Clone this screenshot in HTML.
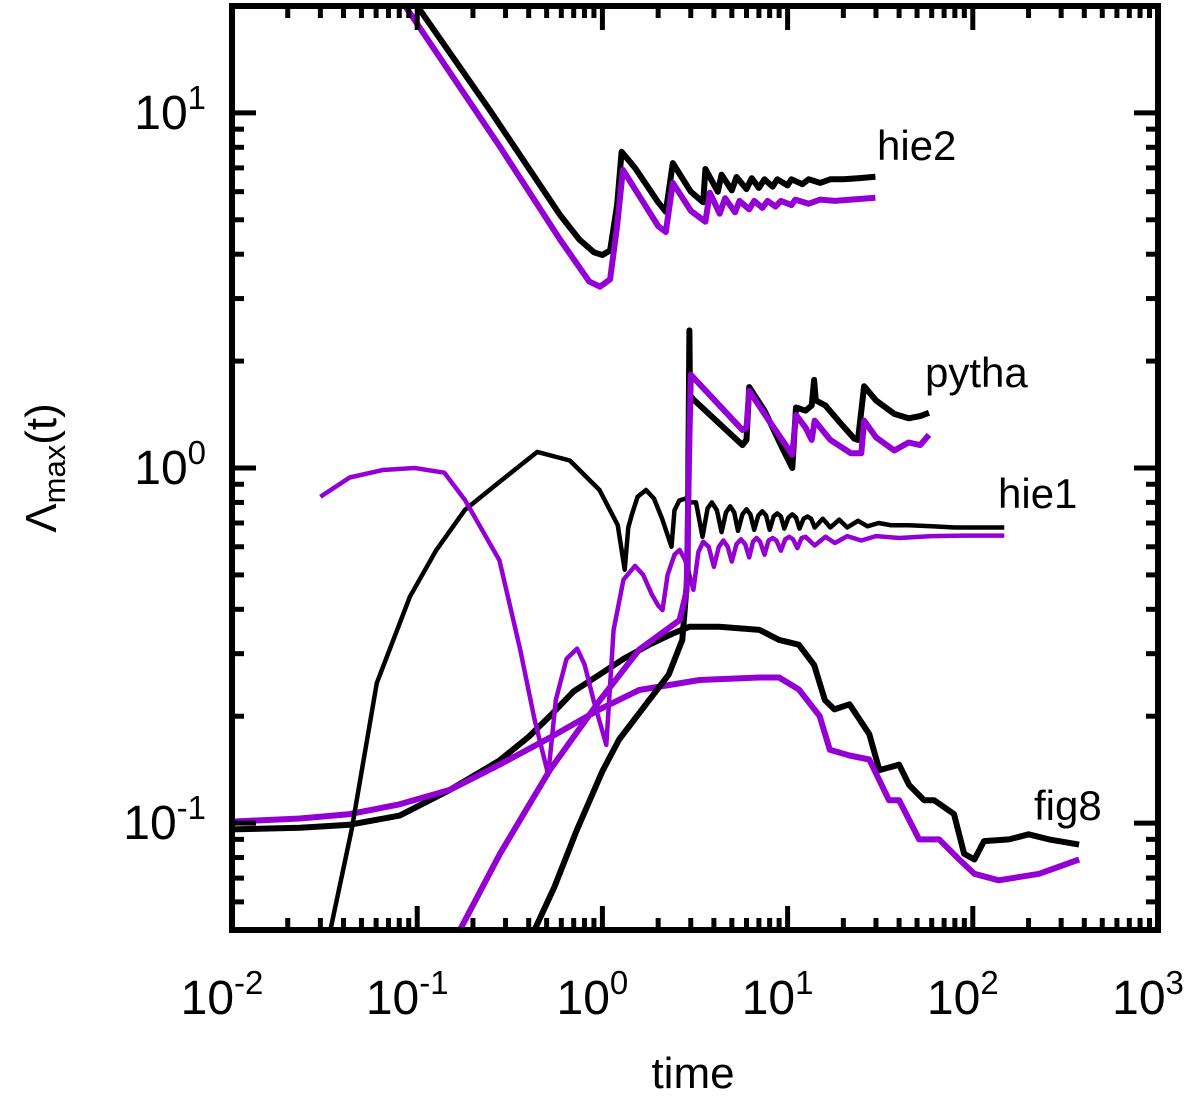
<!DOCTYPE html>
<html><head><meta charset="utf-8"><style>
html,body{margin:0;padding:0;background:#fff;}
svg{display:block;font-family:"Liberation Sans","DejaVu Sans",sans-serif;}
</style></head><body>
<svg id="chart" width="1200" height="1096" viewBox="0 0 1200 1096" xmlns="http://www.w3.org/2000/svg" style="position:absolute;left:0;top:0">
<g id="plot"></g>
<g id="axes"></g>
<g id="labels"></g>
<text x="693" y="1088" text-anchor="middle" font-size="44">time</text>
<text transform="translate(56,468) rotate(-90)" text-anchor="middle" font-size="44">Λ<tspan font-size="31" dy="9">max</tspan><tspan dy="-9">(t)</tspan></text>
<text x="877" y="160" font-size="42">hie2</text>
<text x="925" y="387" font-size="42">pytha</text>
<text x="998" y="508" font-size="42">hie1</text>
<text x="1034" y="820" font-size="42">fig8</text>
</svg>
<script>
const xDecades = [-2,-1,0,1,2,3];
const yDecades = [-1,0,1];
const xTickLabels = ["-2","-1","0","1","2","3"];
const yTickLabels = ["-1","0","1"];

// hie2
const hie2BlackT = [0.10,0.246,0.59,0.75,0.9,1.0,1.1,1.2,1.27,1.5,2.0,2.2,2.4,3.0,3.5,3.6,4.2,4.4,5,5.3,6,6.4,7,7.5,8.3,8.8,10,10.5,12,13,15,17,20,24,29.8];
const hie2BlackY = [20,10.2,5.16,4.4,4.05,3.98,4.1,5.5,7.77,7.0,5.6,5.27,7.22,6.0,5.6,6.95,6.0,6.7,6.05,6.6,6.1,6.55,6.15,6.5,6.2,6.5,6.25,6.5,6.3,6.5,6.35,6.5,6.5,6.55,6.61];
const hie2PurpleT = [0.086,0.278,0.59,0.85,0.97,1.1,1.2,1.29,1.5,2.0,2.2,2.4,3.0,3.6,3.8,4.3,4.6,5.2,5.5,6.2,6.6,7.3,7.8,8.6,9.2,10.5,11,13,15,18,22,29.8];
const hie2PurpleY = [20,8.07,4.4,3.35,3.24,3.4,4.8,6.91,6.1,4.8,4.62,6.35,5.3,4.94,5.96,5.2,5.75,5.25,5.65,5.35,5.65,5.4,5.65,5.45,5.65,5.5,5.7,5.55,5.7,5.65,5.7,5.77];

// hie1
const hie1BlackT = [0.034,0.0443,0.0605,0.0913,0.127,0.181,0.278,0.445,0.667,0.965,1.21,1.32,1.38,1.44,1.55,1.72,1.9,2.1,2.36,2.45,2.6,2.8,2.95,3.2,3.47,3.7,3.9,4.15,4.4,4.65,4.9,5.15,5.4,5.7,6.0,6.3,6.6,6.95,7.3,7.65,8,8.4,8.8,9.2,9.6,10.1,10.6,11.1,11.6,12.2,12.8,13.4,14,15.5,17,19,21,24,27,31,36,45,60,80,100,120,148];
const hie1BlackY = [0.05,0.096,0.248,0.434,0.588,0.762,0.913,1.11,1.05,0.867,0.691,0.517,0.68,0.737,0.83,0.867,0.82,0.72,0.6,0.76,0.81,0.82,0.8,0.8,0.64,0.77,0.8,0.76,0.66,0.75,0.78,0.75,0.665,0.74,0.765,0.74,0.67,0.735,0.755,0.735,0.67,0.73,0.745,0.73,0.675,0.725,0.74,0.725,0.675,0.72,0.73,0.72,0.68,0.72,0.68,0.715,0.68,0.71,0.685,0.70,0.69,0.69,0.685,0.68,0.68,0.68,0.68];
const hie1PurpleT = [0.030,0.0432,0.065,0.097,0.14,0.181,0.278,0.36,0.43,0.51,0.56,0.64,0.73,0.8,0.9,1.05,1.15,1.3,1.5,1.66,1.85,2.0,2.11,2.25,2.45,2.61,2.8,2.95,3.1,3.3,3.5,3.75,4.0,4.25,4.5,4.75,5.0,5.3,5.6,5.9,6.2,6.5,6.8,7.1,7.5,7.9,8.3,8.7,9.2,9.7,10.2,10.7,11.3,11.9,12.5,14,16,18,21,25,30,40,60,90,148];
const hie1PurpleY = [0.83,0.94,0.987,1.0,0.97,0.813,0.55,0.308,0.196,0.137,0.222,0.29,0.31,0.28,0.22,0.166,0.35,0.485,0.53,0.5,0.44,0.41,0.398,0.5,0.57,0.588,0.55,0.5,0.454,0.58,0.62,0.6,0.527,0.6,0.625,0.6,0.545,0.61,0.63,0.61,0.56,0.62,0.635,0.62,0.57,0.625,0.635,0.625,0.585,0.63,0.64,0.63,0.595,0.635,0.64,0.605,0.64,0.615,0.643,0.625,0.643,0.635,0.643,0.645,0.645];

// pytha
const pythaBlackT = [0.43,0.55,0.73,1.0,1.23,1.79,2.28,2.7,2.88,2.95,2.97,3.1,5.7,6.0,6.2,7.5,9.5,10.6,11.1,12.5,13.5,13.9,14.2,16,19,22.9,24,25.9,30,37.7,45,52,58];
const pythaBlackY = [0.05,0.066,0.096,0.14,0.172,0.222,0.262,0.328,0.5,2.44,1.6,1.56,1.16,1.2,1.69,1.45,1.12,1.0,1.48,1.45,1.5,1.77,1.55,1.5,1.35,1.21,1.2,1.7,1.55,1.42,1.38,1.4,1.43];
const pythaPurpleT = [0.17,0.28,0.52,0.97,1.58,2.61,2.85,2.95,3.0,5.7,6.0,6.2,8.0,10.6,11.1,12.5,13.5,14.0,17,22,25,25.9,30,37.7,45,52,58];
const pythaPurpleY = [0.05,0.082,0.141,0.222,0.308,0.373,0.45,1.2,1.83,1.28,1.3,1.65,1.35,1.09,1.41,1.3,1.2,1.36,1.2,1.1,1.1,1.36,1.22,1.12,1.18,1.16,1.24];

// fig8
const fig8BlackT = [0.01,0.0233,0.0432,0.0804,0.150,0.278,0.40,0.52,0.7,0.965,1.3,1.79,2.4,2.95,4.27,7.05,9.0,11.5,13.9,15.9,17.9,21.6,27.6,31.3,40.0,45.3,54.6,61.8,79.2,89.8,102,115,157,200,258,375];
const fig8BlackY = [0.096,0.097,0.099,0.105,0.124,0.15,0.175,0.2,0.235,0.262,0.29,0.318,0.342,0.357,0.357,0.350,0.328,0.318,0.279,0.222,0.209,0.216,0.178,0.141,0.146,0.128,0.116,0.116,0.106,0.082,0.079,0.089,0.090,0.093,0.090,0.087];
const fig8PurpleT = [0.01,0.0233,0.0432,0.0804,0.150,0.278,0.52,0.965,1.58,3.35,7.05,9.0,11.5,14.9,16.9,21.6,27.6,35.3,40.0,51.3,65.8,84.4,102,138,228,375];
const fig8PurpleY = [0.101,0.103,0.106,0.113,0.124,0.146,0.174,0.209,0.237,0.253,0.257,0.257,0.238,0.2,0.161,0.155,0.151,0.116,0.116,0.090,0.090,0.079,0.072,0.069,0.072,0.079];

const L=232,R=1158,T=6,B=930;
const xMin=-2,xMax=3,yMin=Math.log10(0.05),yMax=Math.log10(20);
function xs(t){return L+(Math.log10(t)-xMin)/(xMax-xMin)*(R-L);}
function ys(v){return B-(Math.log10(v)-yMin)/(yMax-yMin)*(B-T);}
const NS="http://www.w3.org/2000/svg";
const plot=document.getElementById('plot'),axes=document.getElementById('axes'),labels=document.getElementById('labels');

const defs=document.createElementNS(NS,'clipPath');
defs.setAttribute('id','clip');
const cr=document.createElementNS(NS,'rect');
cr.setAttribute('x',L);cr.setAttribute('y',T);cr.setAttribute('width',R-L);cr.setAttribute('height',B-T);
defs.appendChild(cr);
document.getElementById('chart').insertBefore(defs,plot);
plot.setAttribute('clip-path','url(#clip)');

function line(ts,vs,color,w,name){
  const p=document.createElementNS(NS,'polyline');
  p.setAttribute('points',ts.map((t,i)=>xs(t).toFixed(1)+','+ys(vs[i]).toFixed(1)).join(' '));
  p.setAttribute('fill','none');p.setAttribute('stroke',color);p.setAttribute('stroke-width',w);
  p.setAttribute('stroke-linejoin','round');
  
  
  plot.appendChild(p);
}
const K='#000',P='#9400d3';
line(fig8BlackT,fig8BlackY,K,6,'fig8-black-line');
line(fig8PurpleT,fig8PurpleY,P,6,'fig8-purple-line');
line(hie1BlackT,hie1BlackY,K,4.5,'hie1-black-line');
line(hie1PurpleT,hie1PurpleY,P,4.5,'hie1-purple-line');
line(pythaBlackT,pythaBlackY,K,6,'pytha-black-line');
line(pythaPurpleT,pythaPurpleY,P,6,'pytha-purple-line');
line(hie2BlackT,hie2BlackY,K,6,'hie2-black-line');
line(hie2PurpleT,hie2PurpleY,P,6,'hie2-purple-line');

function seg(x1,y1,x2,y2,w,name){
  const l=document.createElementNS(NS,'line');
  l.setAttribute('x1',x1);l.setAttribute('y1',y1);l.setAttribute('x2',x2);l.setAttribute('y2',y2);
  l.setAttribute('stroke','#000');l.setAttribute('stroke-width',w);
  
  
  axes.appendChild(l);
}
xDecades.forEach((d,i)=>{
  const x=xs(Math.pow(10,d));
  seg(x,B,x,B-24,5,'x-major-tick');seg(x,T,x,T+24,5,'x-major-tick');
  if(i<xDecades.length-1){for(let m=2;m<10;m++){const xm=xs(m*Math.pow(10,d));seg(xm,B,xm,B-12,5,'x-minor-tick');seg(xm,T,xm,T+12,5,'x-minor-tick');}}
  const tx=document.createElementNS(NS,'text');
  tx.setAttribute('x',x-10);tx.setAttribute('y',1014);tx.setAttribute('text-anchor','middle');tx.setAttribute('font-size','48');
  tx.innerHTML='10<tspan dy="-20" font-size="33">'+xTickLabels[i]+'</tspan>';
  
  
  labels.appendChild(tx);
});
for(let d=-2;d<=1;d++){
  for(let m=1;m<10;m++){const v=m*Math.pow(10,d);if(v<0.05||v>20)continue;const y=ys(v);
    const len=m===1?24:12;seg(L,y,L+len,y,5,m===1?'y-major-tick':'y-minor-tick');seg(R,y,R-len,y,5,m===1?'y-major-tick':'y-minor-tick');}
}
yDecades.forEach((d,i)=>{
  const y=ys(Math.pow(10,d));
  const tx=document.createElementNS(NS,'text');
  tx.setAttribute('x',206);tx.setAttribute('y',y+16);tx.setAttribute('text-anchor','end');tx.setAttribute('font-size','48');
  tx.innerHTML='10<tspan dy="-20" font-size="33">'+yTickLabels[i]+'</tspan>';
  
  
  labels.appendChild(tx);
});
const fr=document.createElementNS(NS,'rect');
fr.setAttribute('x',L);fr.setAttribute('y',T);fr.setAttribute('width',R-L);fr.setAttribute('height',B-T);
fr.setAttribute('fill','none');fr.setAttribute('stroke','#000');fr.setAttribute('stroke-width',6);


axes.appendChild(fr);
</script>
</body></html>
